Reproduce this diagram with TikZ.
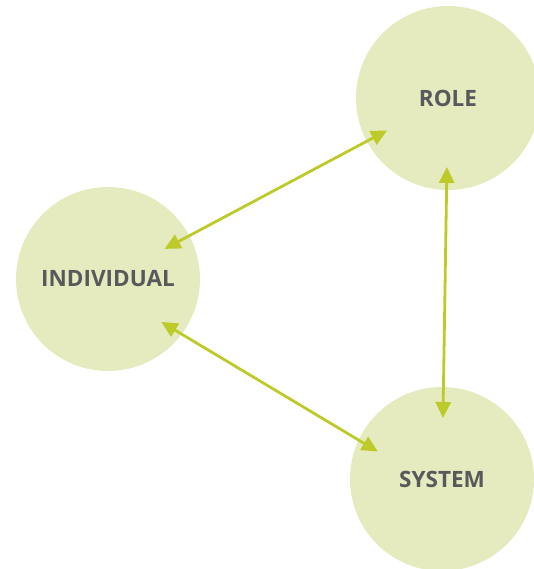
\documentclass[tikz,border=0pt]{standalone}
\usepackage{fontspec}
\setmainfont{Open Sans}
\usetikzlibrary{arrows.meta}
\definecolor{circfill}{HTML}{E6EABF}
\definecolor{linkgreen}{HTML}{BDCB2A}
\definecolor{labelgray}{HTML}{58595B}
\begin{document}
\begin{tikzpicture}[x=1pt,y=-1pt]
	\tikzset{
		circ/.style={circle,minimum size=184pt,inner sep=0pt,fill=circfill,
			text=labelgray,font=\bfseries\fontsize{22.5}{26}\selectfont},
		link/.style={line width=2.8pt,color=linkgreen,
			{Triangle[length=16pt,width=15pt]}-{Triangle[length=16pt,width=15pt]}}
	}
	\useasboundingbox (0,0) rectangle (533,569);
	\node[circ] (role) at (448,98) {ROLE};
	\node[circ] (indiv) at (108,279) {INDIVIDUAL};
	\node[circ] (sys) at (442,479) {SYSTEM};
	% arrows run between the centres, cut back to end inside each circle
	\draw[link,shorten <=64pt,shorten >=69pt] (indiv.center) -- (role.center);
	\draw[link,shorten <=69pt,shorten >=61pt] (role.center) -- (sys.center);
	\draw[link,shorten <=68pt,shorten >=69pt]
		([shift={(-5,8)}]indiv.center) -- ([shift={(-5,8)}]sys.center);
\end{tikzpicture}
\end{document}
